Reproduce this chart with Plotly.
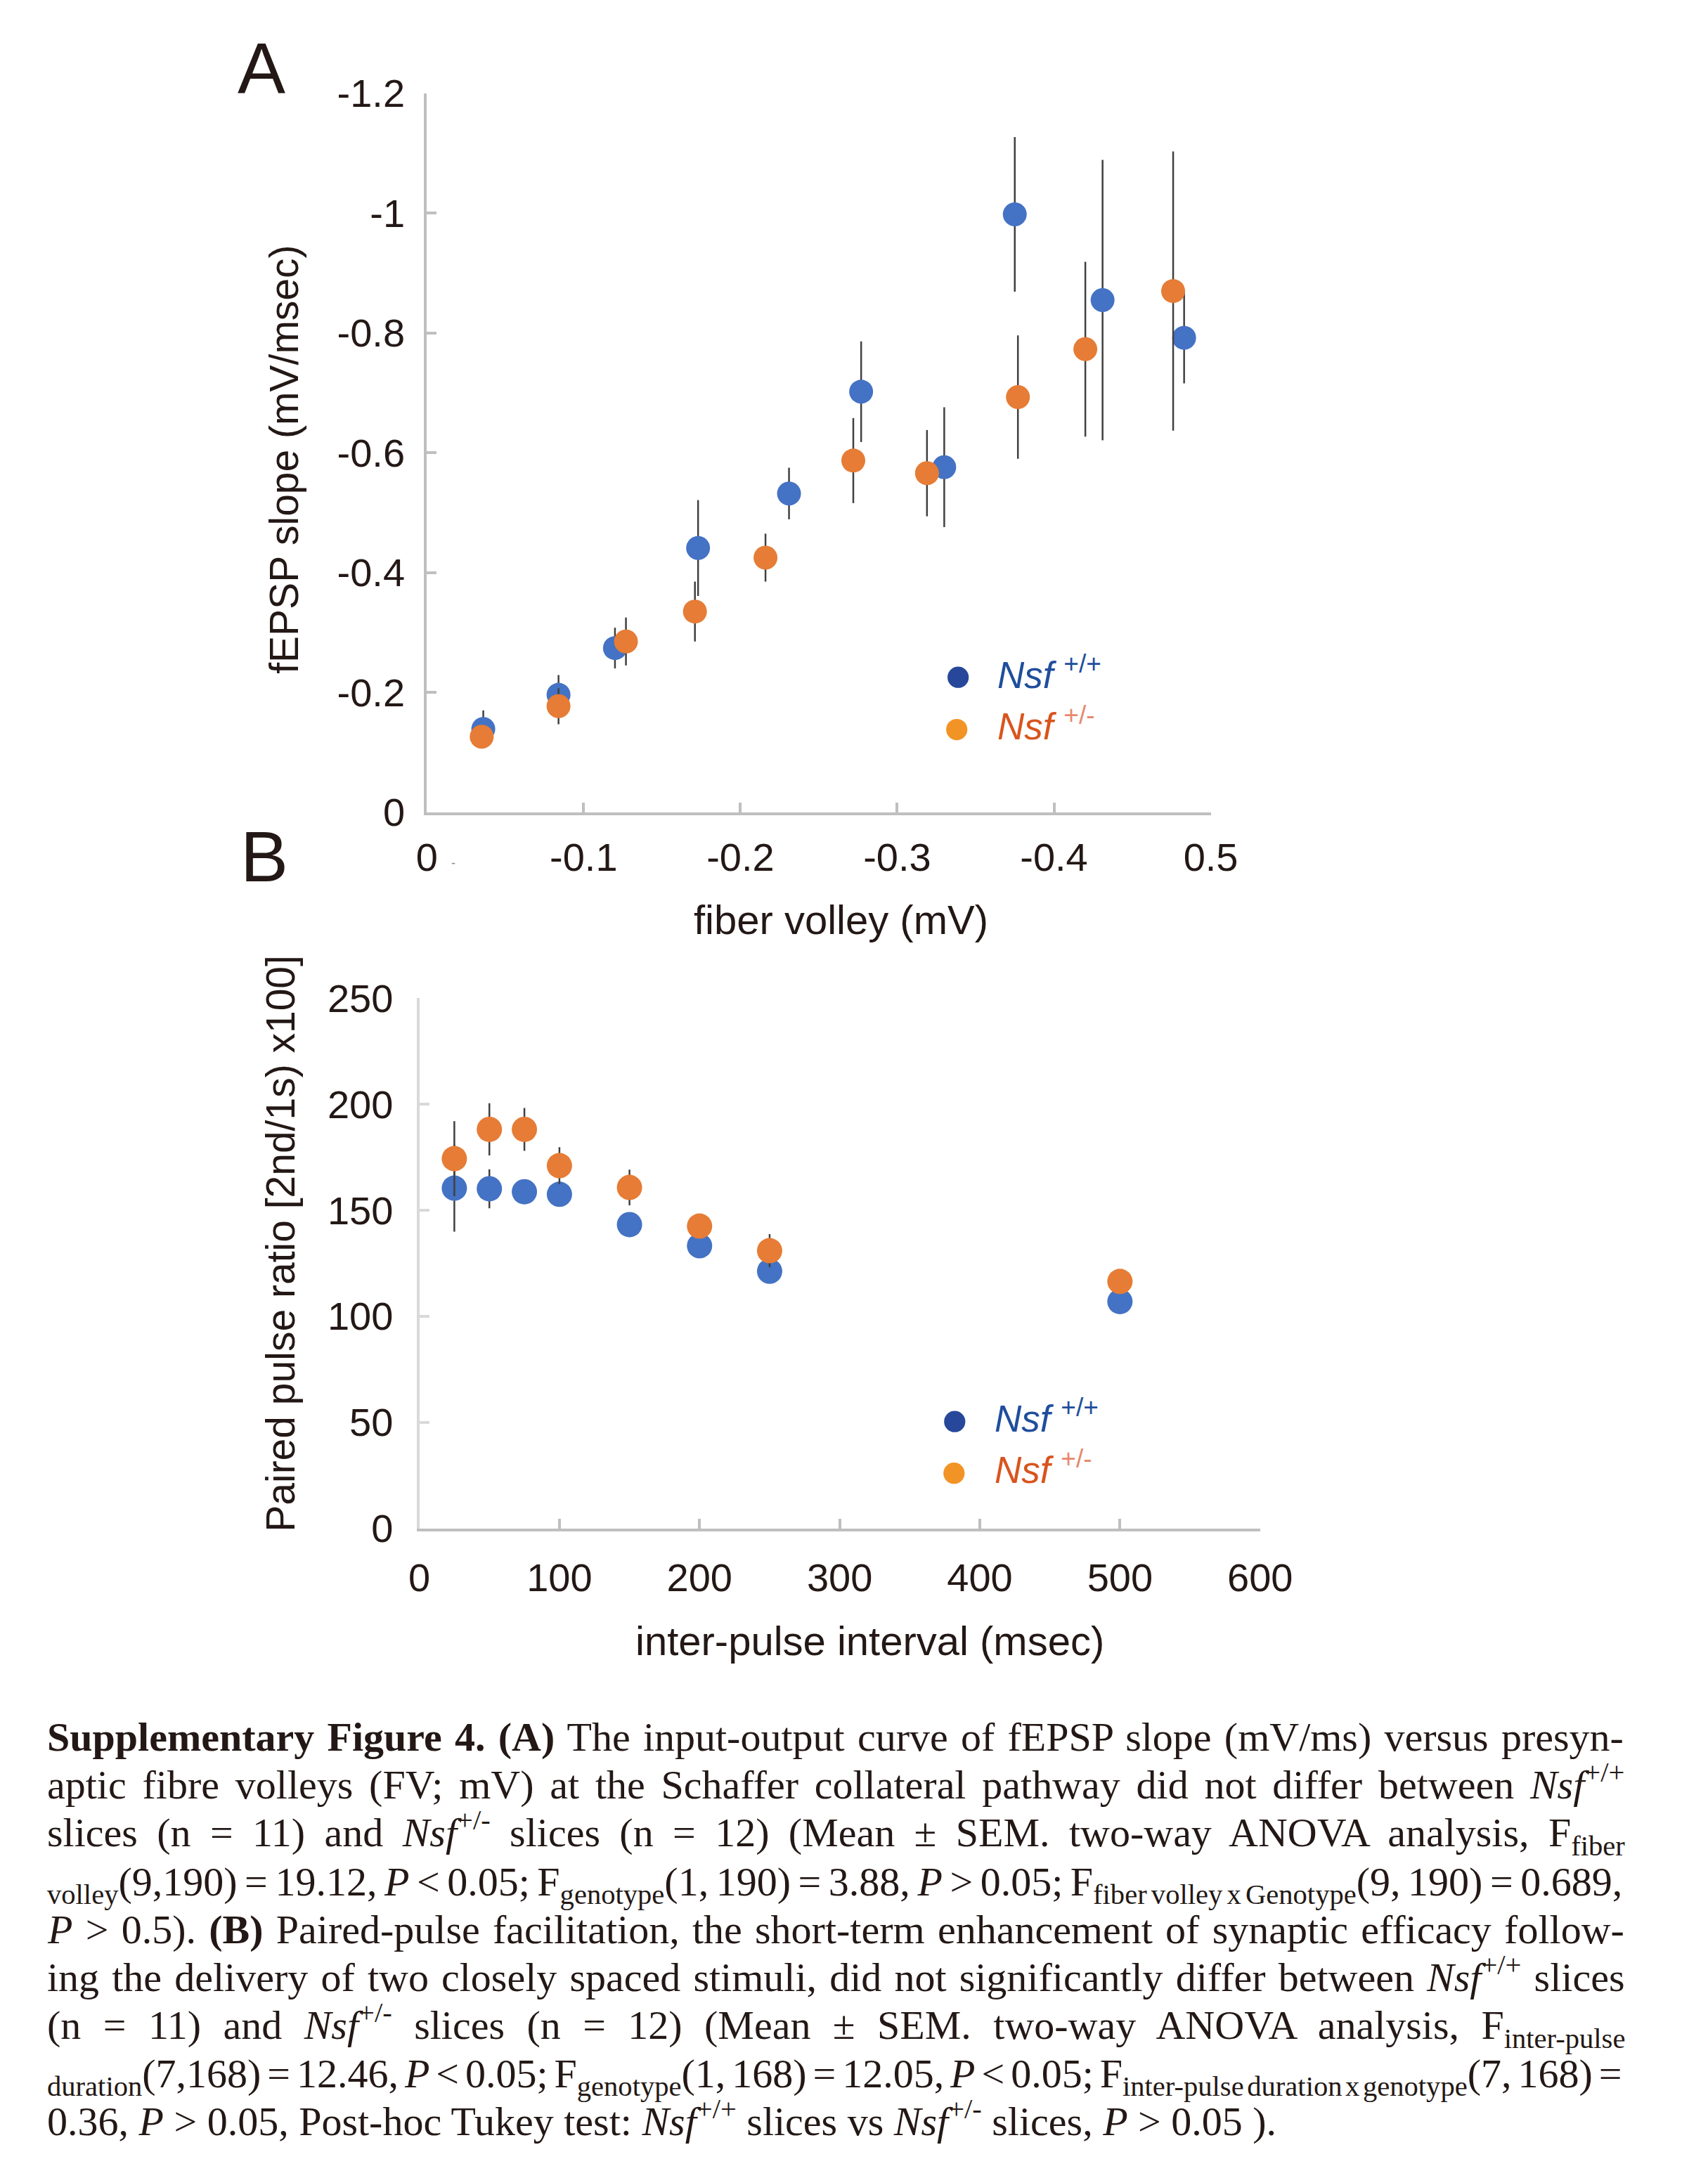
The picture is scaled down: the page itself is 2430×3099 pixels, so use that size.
import re
import plotly.graph_objects as go

# ---------------- data ----------------
# Panel A: input-output (fiber volley, mV  vs  fEPSP slope, mV/msec)
fv_wt = [-0.036, -0.084, -0.120, -0.173, -0.231, -0.277, -0.330, -0.375, -0.431, -0.483]
slope_wt = [-0.139, -0.196, -0.274, -0.441, -0.532, -0.702, -0.576, -0.998, -0.855, -0.792]
slope_wt_err = [0.031, 0.033, 0.034, 0.080, 0.043, 0.084, 0.100, 0.129, 0.234, 0.076]

fv_het = [-0.035, -0.084, -0.127, -0.171, -0.216, -0.272, -0.319, -0.377, -0.420, -0.476]
slope_het = [-0.126, -0.177, -0.285, -0.335, -0.425, -0.587, -0.566, -0.693, -0.773, -0.870]
slope_het_err = [0.019, 0.030, 0.040, 0.050, 0.040, 0.071, 0.072, 0.103, 0.146, 0.233]

a_xtickvals = [0, -0.1, -0.2, -0.3, -0.4, -0.5]
a_xticktext = ["0", "-0.1", "-0.2", "-0.3", "-0.4", "0.5"]
a_ytickvals = [0, -0.2, -0.4, -0.6, -0.8, -1.0, -1.2]
a_yticktext = ["0", "-0.2", "-0.4", "-0.6", "-0.8", "-1", "-1.2"]

# Panel B: paired pulse ratio vs inter-pulse interval
ipi = [25, 50, 75, 100, 150, 200, 250, 500]
ppr_wt = [160.4, 160.1, 158.7, 157.5, 143.2, 133.2, 121.2, 106.9]
ppr_wt_err = [20.5, 9.2, 3.0, 5.0, 3.0, 3.0, 3.0, 3.0]
ppr_het = [174.3, 188.1, 188.1, 171.0, 160.7, 142.5, 130.9, 116.4]
ppr_het_err = [17.7, 12.3, 10.1, 8.7, 8.4, 3.0, 7.8, 3.0]

b_xtickvals = [0, 100, 200, 300, 400, 500, 600]
b_ytickvals = [0, 50, 100, 150, 200, 250]

caption_lines = [
    "<b>Supplementary Figure 4. (A)</b> The input-output curve of fEPSP slope (mV/ms) versus presyn-",
    "aptic fibre volleys (FV; mV) at the Schaffer collateral pathway did not differ between <i>Nsf</i><sup>+/+</sup>",
    "slices (n = 11) and <i>Nsf</i><sup>+/-</sup> slices (n = 12) (Mean ± SEM. two-way ANOVA analysis, F<sub>fiber</sub>",
    "<sub>volley</sub>(9,190) = 19.12, <i>P</i> &lt; 0.05; F<sub>genotype</sub>(1, 190) = 3.88, <i>P</i> &gt; 0.05; F<sub>fiber volley x Genotype</sub>(9, 190) = 0.689,",
    "<i>P</i> &gt; 0.5). <b>(B)</b> Paired-pulse facilitation, the short-term enhancement of synaptic efficacy follow-",
    "ing the delivery of two closely spaced stimuli, did not significantly differ between <i>Nsf</i><sup>+/+</sup> slices",
    "(n = 11) and <i>Nsf</i><sup>+/-</sup> slices (n = 12) (Mean ± SEM. two-way ANOVA analysis, F<sub>inter-pulse</sub>",
    "<sub>duration</sub>(7,168) = 12.46, <i>P</i> &lt; 0.05; F<sub>genotype</sub>(1, 168) = 12.05, <i>P</i> &lt; 0.05; F<sub>inter-pulse duration x genotype</sub>(7, 168) =",
    "0.36, <i>P</i> &gt; 0.05, Post-hoc Tukey test: <i>Nsf</i><sup>+/+</sup> slices vs <i>Nsf</i><sup>+/-</sup> slices, <i>P</i> &gt; 0.05 ).",
]
# extra width (px) each justified line needs to reach the right margin (last line is ragged)
caption_extra = [45, 116, 206, -75, 45, 51, 254, -100, 0]

# ---------------- styling ----------------
W, H = 2430, 3099
def px(x):
    return x / W
def py(y):
    return 1 - y / H

BLUE = "#4472C4"
ORANGE = "#E67C35"
ERR = "#404040"
TXT = "#231815"
AX = "#BFBFBF"
AXY_B = "#D9D9D9"
SANS = "Liberation Sans, Arial, sans-serif"
SERIF = "Liberation Serif, Times New Roman, serif"

fig = go.Figure()

def err(arr):
    return dict(type="data", array=arr, visible=True, color=ERR, thickness=2.5, width=0)

fig.add_trace(go.Scatter(x=fv_wt, y=slope_wt, mode="markers", error_y=err(slope_wt_err),
                         marker=dict(color=BLUE, size=34), xaxis="x", yaxis="y", showlegend=False))
fig.add_trace(go.Scatter(x=fv_het, y=slope_het, mode="markers", error_y=err(slope_het_err),
                         marker=dict(color=ORANGE, size=34), xaxis="x", yaxis="y", showlegend=False))
fig.add_trace(go.Scatter(x=ipi, y=ppr_wt, mode="markers", error_y=err(ppr_wt_err),
                         marker=dict(color=BLUE, size=36), xaxis="x2", yaxis="y2", showlegend=False))
fig.add_trace(go.Scatter(x=ipi, y=ppr_het, mode="markers", error_y=err(ppr_het_err),
                         marker=dict(color=ORANGE, size=36), xaxis="x2", yaxis="y2", showlegend=False))

tickfont = dict(family=SANS, size=56, color=TXT)
common = dict(showgrid=False, zeroline=False, showline=True, linewidth=4, ticks="inside",
              ticklen=14, tickwidth=4, tickfont=tickfont)

fig.update_layout(
    width=W, height=H, margin=dict(l=0, r=0, t=0, b=0),
    paper_bgcolor="white", plot_bgcolor="white", showlegend=False,
    xaxis=dict(domain=[px(607), px(1752)], anchor="y", range=[0, -0.5],
               tickvals=a_xtickvals, ticktext=a_xticktext, linecolor=AX, tickcolor=AX,
               ticklabelstandoff=12, **common),
    yaxis=dict(domain=[py(1148), py(104)], anchor="x", range=[0, -1.2],
               tickvals=a_ytickvals, ticktext=a_yticktext, linecolor=AX, tickcolor=AX,
               ticklabelstandoff=16, **common),
    xaxis2=dict(domain=[px(596), px(1824)], anchor="y2", range=[0, 600],
                tickvals=b_xtickvals, linecolor=AX, tickcolor=AX,
                ticklabelstandoff=18, **common),
    yaxis2=dict(domain=[py(2188), py(1418)], anchor="x2", range=[0, 250],
                tickvals=b_ytickvals, linecolor=AXY_B, tickcolor=AXY_B,
                ticklabelstandoff=22, **common),
)

ann = []
# panel letters (positioned by cap centre)
ann.append(dict(text="A", x=px(329), y=py(68), xanchor="left", yanchor="middle",
                font=dict(family=SANS, size=102, color=TXT)))
ann.append(dict(text="B", x=px(333), y=py(1213), xanchor="left", yanchor="middle",
                font=dict(family=SANS, size=102, color=TXT)))
# axis titles
ann.append(dict(text="fiber volley (mV)", x=px(1212), y=py(1304), xanchor="center", yanchor="middle",
                font=dict(family=SANS, size=58, color=TXT)))
ann.append(dict(text="fEPSP slope (mV/msec)", x=px(398), y=py(636), xanchor="center", yanchor="middle",
                textangle=-90, font=dict(family=SANS, size=57, color=TXT)))
ann.append(dict(text="inter-pulse interval (msec)", x=px(1254), y=py(2351), xanchor="center", yanchor="middle",
                font=dict(family=SANS, size=58, color=TXT)))
ann.append(dict(text="Paired pulse ratio [2nd/1s) x100]", x=px(393), y=py(1774), xanchor="center",
                yanchor="middle", textangle=-90, font=dict(family=SANS, size=57, color=TXT)))
# tiny stray mark near origin of panel A
ann.append(dict(text="-", x=px(646), y=py(1222), xanchor="center", yanchor="middle",
                font=dict(family=SANS, size=18, color="#888888")))

# legends
LEG_BLUE_DOT = "#26479A"
LEG_ORANGE_DOT = "#F29325"
LEG_BLUE_TXT = "#1F4E9C"
LEG_ORANGE_TXT = "#D9541E"
LEG_ORANGE_SUP = "#E8886C"
shapes = []
legend_specs = [
    # (dot cx, dot cy, text x, text baseline, dot color, label)
    (1383, 952, 1438, 967, LEG_BLUE_DOT,
     "<span style='color:%s'><i>Nsf</i> <sup>+/+</sup></span>" % LEG_BLUE_TXT),
    (1381, 1028, 1438, 1042, LEG_ORANGE_DOT,
     "<span style='color:%s'><i>Nsf</i></span> <sup><span style='color:%s'>+/-</span></sup>" % (LEG_ORANGE_TXT, LEG_ORANGE_SUP)),
    (1378, 2033, 1434, 2047, LEG_BLUE_DOT,
     "<span style='color:%s'><i>Nsf</i> <sup>+/+</sup></span>" % LEG_BLUE_TXT),
    (1377, 2108, 1434, 2122, LEG_ORANGE_DOT,
     "<span style='color:%s'><i>Nsf</i></span> <sup><span style='color:%s'>+/-</span></sup>" % (LEG_ORANGE_TXT, LEG_ORANGE_SUP)),
]
r = 15.5
LFS = 53
for cx, cy, tx, tb, col, label in legend_specs:
    shapes.append(dict(type="circle", xref="paper", yref="paper",
                       x0=px(cx - r), x1=px(cx + r), y0=py(cy + r), y1=py(cy - r),
                       fillcolor=col, line=dict(width=0)))
    ann.append(dict(text=label, x=px(tx), y=py(tb - 0.35 * LFS - 4), xanchor="left", yanchor="middle",
                    font=dict(family=SANS, size=LFS, color=TXT)))

# caption
CFS = 58
base0 = 2511
step = 69.8
for i, line in enumerate(caption_lines):
    b = base0 + i * step
    plain = re.sub(r"<[^>]+>", "", line)
    nsp = plain.count(" ")
    text = line
    if caption_extra[i] != 0 and nsp > 0:
        ws = caption_extra[i] / nsp
        text = "<span style='word-spacing:%.2fpx'>%s</span>" % (ws, line)
    yc = b - 0.3375 * CFS
    if "<sup>" in line:
        yc -= 4.4
    if "<sub>" in line:
        yc += 4.2
    ann.append(dict(text=text, x=px(50), y=py(yc), xanchor="left", yanchor="middle",
                    align="left", font=dict(family=SERIF, size=CFS, color=TXT)))

for a in ann:
    a.setdefault("xref", "paper")
    a.setdefault("yref", "paper")
    a.setdefault("showarrow", False)

fig.update_layout(annotations=ann, shapes=shapes)
fig.write_html("out.html", config={"displayModeBar": False},
               post_script="document.body.style.margin='0px';")
